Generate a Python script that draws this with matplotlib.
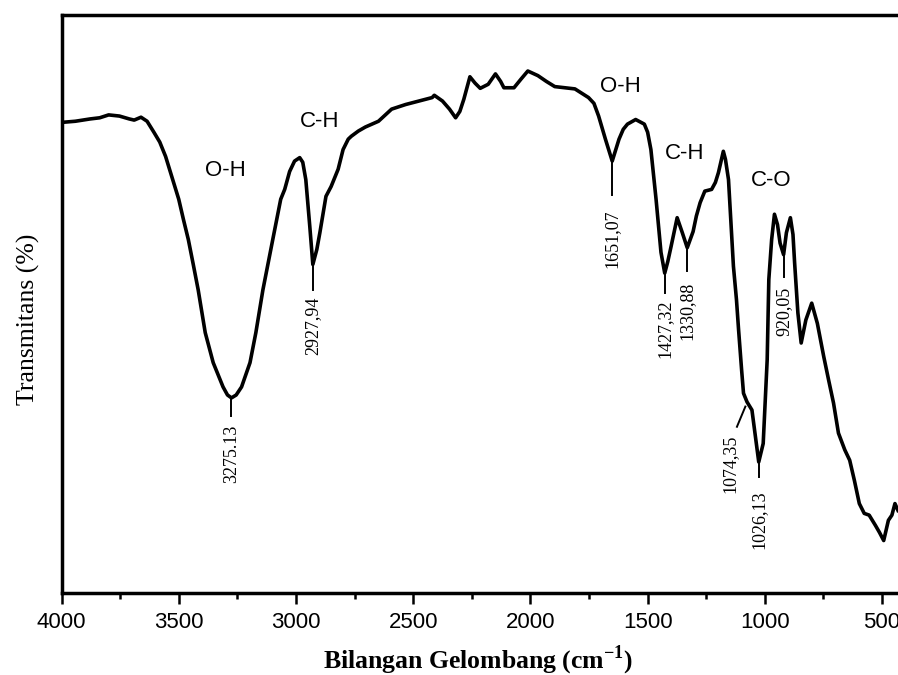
import matplotlib
matplotlib.use('Agg')
import matplotlib.pyplot as plt
from matplotlib.ticker import MultipleLocator

plt.rcParams['mathtext.fontset'] = 'custom'
plt.rcParams['mathtext.rm'] = 'Liberation Serif'
plt.rcParams['mathtext.bf'] = 'Liberation Serif:bold'

# FTIR spectrum (wavenumber cm-1, transmittance in arbitrary %)
wave = [4000, 3941, 3878, 3837, 3799, 3753, 3711, 3690, 3661, 3635,
        3606, 3581, 3556, 3531, 3500, 3480, 3459, 3438, 3417, 3387,
        3353, 3311, 3292, 3275, 3255, 3232, 3196, 3171, 3141, 3120,
        3099, 3065, 3048, 3027, 3006, 2984, 2971, 2958, 2941, 2928,
        2911, 2898, 2872, 2850, 2820, 2799, 2777, 2764, 2734, 2704,
        2648, 2592, 2532, 2475, 2419, 2410, 2375, 2345, 2319, 2301,
        2284, 2258, 2236, 2214, 2180, 2149, 2127, 2113, 2070, 2040,
        2011, 1968, 1932, 1896, 1810, 1752, 1729, 1709, 1680, 1651,
        1622, 1604, 1586, 1551, 1514, 1500, 1486, 1464, 1443, 1427,
        1414, 1400, 1374, 1352, 1331, 1306, 1292, 1276, 1256, 1227,
        1211, 1198, 1177, 1168, 1155, 1134, 1121, 1112, 1099, 1091,
        1076, 1055, 1040, 1026, 1007, 997, 990, 983, 971, 959,
        946, 935, 920, 908, 891, 880, 873, 859, 845, 825,
        800, 776, 749, 728, 707, 686, 659, 638, 618, 597,
        576, 555, 528, 511, 493, 473, 458, 445, 432]
trans = [81.4, 81.6, 82.0, 82.2, 82.7, 82.5, 82.0, 81.8, 82.3, 81.6,
         79.7, 78.0, 75.5, 72.2, 68.1, 64.6, 61.1, 56.8, 52.4, 45.0,
         39.8, 35.6, 34.2, 33.7, 34.2, 35.6, 39.8, 45.0, 52.4, 56.8,
         61.1, 68.1, 69.8, 72.9, 74.7, 75.3, 74.5, 71.5, 63.4, 56.8,
         59.4, 62.3, 68.6, 70.3, 73.3, 76.7, 78.5, 79.0, 79.9, 80.6,
         81.6, 83.7, 84.5, 85.1, 85.7, 86.1, 85.1, 83.7, 82.2, 83.3,
         85.4, 89.3, 88.2, 87.3, 88.0, 89.8, 88.5, 87.4, 87.4, 88.9,
         90.3, 89.5, 88.5, 87.6, 87.2, 85.7, 84.7, 82.5, 78.5, 74.7,
         78.5, 80.2, 81.1, 81.9, 81.1, 79.7, 76.7, 68.1, 58.9, 55.3,
         57.3, 59.9, 64.9, 62.3, 59.7, 62.5, 65.2, 67.5, 69.5, 69.8,
         71.0, 72.7, 76.4, 75.0, 71.5, 56.5, 50.7, 45.5, 38.5, 34.5,
         33.0, 31.6, 27.0, 22.6, 25.8, 34.5, 40.3, 54.2, 61.1, 65.5,
         63.7, 60.5, 58.5, 62.3, 64.9, 62.0, 57.1, 48.4, 43.2, 47.2,
         50.1, 46.6, 40.9, 36.8, 32.8, 27.6, 24.7, 22.9, 19.4, 15.4,
         13.7, 13.4, 11.6, 10.4, 9.0, 12.5, 13.4, 15.4, 14.2]

# peak labels: position, text, line top/bottom, text top
peak_x = [3275, 2928, 1651, 1427, 1331, 1026, 920]
peak_txt = ['3275.13', '2927,94', '1651,07', '1427,32', '1330,88', '1026,13', '920,05']
peak_y0 = [33.7, 56.8, 74.7, 55.3, 59.7, 22.6, 58.5]
peak_y1 = [30.6, 52.3, 68.8, 51.9, 55.6, 20.0, 54.7]
peak_ty = [29.0, 51.2, 66.3, 50.7, 53.8, 17.7, 53.0]

# group labels
grp_txt = ['O-H', 'C-H', 'O-H', 'C-H', 'C-O']
grp_x = [3302, 2900, 1617, 1343, 971]
grp_y = [73.1, 81.6, 87.7, 76.0, 71.3]

fig = plt.figure(figsize=(8.98, 6.75), dpi=100)
ax = fig.add_axes([0.0685, 0.1222, 0.9315, 0.8556])

ax.plot(wave, trans, color='black', lw=2.6, solid_joinstyle='round')

for x, t, y0, y1, ty in zip(peak_x, peak_txt, peak_y0, peak_y1, peak_ty):
    ax.plot([x, x], [y0, y1], color='black', lw=1.4)
    ax.text(x, ty, t, rotation=90, ha='center', va='top',
            family='Liberation Serif', fontsize=13)

# 1074,35 shoulder has a slanted leader
ax.plot([1083, 1119], [32.2, 28.7], color='black', lw=1.4)
ax.text(1148, 27.3, '1074,35', rotation=90, ha='center', va='top',
        family='Liberation Serif', fontsize=13)

for t, x, y in zip(grp_txt, grp_x, grp_y):
    ax.text(x, y, t, ha='center', va='center', family='Liberation Sans', fontsize=16)

ax.set_xlim(4000, 432)
ax.set_ylim(0, 100)
ax.xaxis.set_major_locator(MultipleLocator(500))
ax.xaxis.set_minor_locator(MultipleLocator(250))
ax.set_yticks([])
ax.tick_params(axis='x', which='major', direction='out', length=8, width=1.8,
               pad=6, labelsize=16)
ax.tick_params(axis='x', which='minor', direction='out', length=4, width=1.8)
for lab in ax.get_xticklabels():
    lab.set_family('Liberation Sans')

for s in ['left', 'bottom', 'top']:
    ax.spines[s].set_linewidth(2.5)
ax.spines['right'].set_visible(False)

fig.text(0.0312, 0.527, 'Transmitans (%)', rotation=90, ha='center', va='center',
         family='Liberation Serif', fontsize=18.5)
fig.text(0.532, 0.0104, r'Bilangan Gelombang (cm$^{\mathbf{-1}}$)', ha='center',
         va='baseline', family='Liberation Serif', fontsize=18.5, fontweight='bold')

plt.savefig('out.png', dpi=100)
